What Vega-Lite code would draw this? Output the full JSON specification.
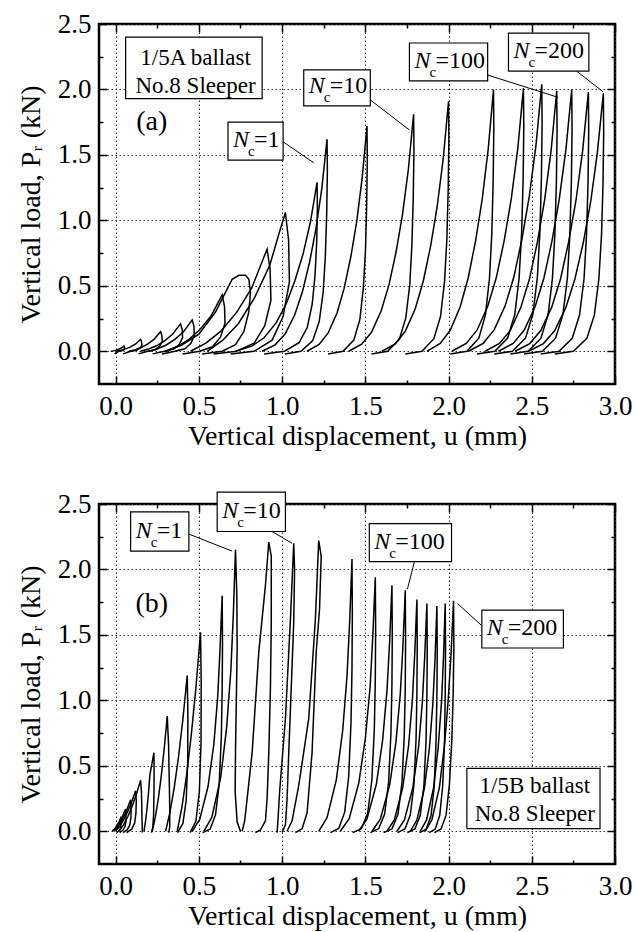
{
  "$schema": "https://vega.github.io/schema/vega-lite/v6.json",
  "padding": {"top": 8, "left": 16, "right": 10, "bottom": 0},
  "spacing": 36,
  "config": {
    "view": {"stroke": "black", "strokeWidth": 2.5},
    "font": "Liberation Serif, Times New Roman, DejaVu Serif, serif",
    "axis": {"labelFont": "Liberation Serif, Times New Roman, DejaVu Serif, serif", "titleFont": "Liberation Serif, Times New Roman, DejaVu Serif, serif", "labelFontSize": 27, "titleFontSize": 28, "titleFontWeight": "normal", "labelColor": "black", "titleColor": "black", "tickColor": "black", "tickWidth": 1.5, "domain": false},
    "text": {"font": "Liberation Serif, Times New Roman, DejaVu Serif, serif"}
  },
  "datasets": {
    "loopsA": [
      {"l":"A1","i":0,"u":-0.03,"P":0},{"l":"A1","i":1,"u":-0.014,"P":0.003},{"l":"A1","i":2,"u":0.002,"P":0.008},{"l":"A1","i":3,"u":0.018,"P":0.015},{"l":"A1","i":4,"u":0.034,"P":0.025},{"l":"A1","i":5,"u":0.044,"P":0.034},{"l":"A1","i":6,"u":0.05,"P":0.04},{"l":"A1","i":7,"u":0.053,"P":0.032},{"l":"A1","i":8,"u":0.054,"P":0.02},{"l":"A1","i":9,"u":0.048,"P":0.01},{"l":"A1","i":10,"u":0.036,"P":0.003},{"l":"A1","i":11,"u":0.018,"P":0},{"l":"A1","i":12,"u":-0.006,"P":-0.02},
      {"l":"A2","i":0,"u":0,"P":0},{"l":"A2","i":1,"u":0.03,"P":0.007},{"l":"A2","i":2,"u":0.06,"P":0.018},{"l":"A2","i":3,"u":0.09,"P":0.034},{"l":"A2","i":4,"u":0.12,"P":0.056},{"l":"A2","i":5,"u":0.138,"P":0.077},{"l":"A2","i":6,"u":0.15,"P":0.09},{"l":"A2","i":7,"u":0.156,"P":0.072},{"l":"A2","i":8,"u":0.158,"P":0.045},{"l":"A2","i":9,"u":0.146,"P":0.023},{"l":"A2","i":10,"u":0.125,"P":0.007},{"l":"A2","i":11,"u":0.09,"P":0},{"l":"A2","i":12,"u":0.045,"P":-0.02},
      {"l":"A3","i":0,"u":0.08,"P":0},{"l":"A3","i":1,"u":0.118,"P":0.012},{"l":"A3","i":2,"u":0.156,"P":0.03},{"l":"A3","i":3,"u":0.194,"P":0.057},{"l":"A3","i":4,"u":0.232,"P":0.093},{"l":"A3","i":5,"u":0.255,"P":0.128},{"l":"A3","i":6,"u":0.27,"P":0.15},{"l":"A3","i":7,"u":0.278,"P":0.12},{"l":"A3","i":8,"u":0.28,"P":0.075},{"l":"A3","i":9,"u":0.264,"P":0.038},{"l":"A3","i":10,"u":0.238,"P":0.012},{"l":"A3","i":11,"u":0.194,"P":0},{"l":"A3","i":12,"u":0.137,"P":-0.02},
      {"l":"A4","i":0,"u":0.15,"P":0},{"l":"A4","i":1,"u":0.198,"P":0.017},{"l":"A4","i":2,"u":0.246,"P":0.042},{"l":"A4","i":3,"u":0.294,"P":0.08},{"l":"A4","i":4,"u":0.342,"P":0.13},{"l":"A4","i":5,"u":0.371,"P":0.179},{"l":"A4","i":6,"u":0.39,"P":0.21},{"l":"A4","i":7,"u":0.4,"P":0.168},{"l":"A4","i":8,"u":0.402,"P":0.105},{"l":"A4","i":9,"u":0.383,"P":0.053},{"l":"A4","i":10,"u":0.349,"P":0.017},{"l":"A4","i":11,"u":0.294,"P":0},{"l":"A4","i":12,"u":0.222,"P":-0.02},
      {"l":"A5","i":0,"u":0.2,"P":0},{"l":"A5","i":1,"u":0.252,"P":0.019},{"l":"A5","i":2,"u":0.304,"P":0.048},{"l":"A5","i":3,"u":0.356,"P":0.091},{"l":"A5","i":4,"u":0.408,"P":0.149},{"l":"A5","i":5,"u":0.439,"P":0.204},{"l":"A5","i":6,"u":0.46,"P":0.24},{"l":"A5","i":7,"u":0.47,"P":0.192},{"l":"A5","i":8,"u":0.473,"P":0.12},{"l":"A5","i":9,"u":0.452,"P":0.06},{"l":"A5","i":10,"u":0.416,"P":0.019},{"l":"A5","i":11,"u":0.356,"P":0},{"l":"A5","i":12,"u":0.278,"P":-0.02},
      {"l":"A6","i":0,"u":0.3,"P":0},{"l":"A6","i":1,"u":0.368,"P":0.034},{"l":"A6","i":2,"u":0.436,"P":0.086},{"l":"A6","i":3,"u":0.504,"P":0.163},{"l":"A6","i":4,"u":0.572,"P":0.267},{"l":"A6","i":5,"u":0.613,"P":0.366},{"l":"A6","i":6,"u":0.64,"P":0.43},{"l":"A6","i":7,"u":0.654,"P":0.344},{"l":"A6","i":8,"u":0.657,"P":0.215},{"l":"A6","i":9,"u":0.63,"P":0.108},{"l":"A6","i":10,"u":0.582,"P":0.034},{"l":"A6","i":11,"u":0.504,"P":0},{"l":"A6","i":12,"u":0.402,"P":-0.02},
      {"l":"A7","i":0,"u":0.3,"P":0},{"l":"A7","i":1,"u":0.4,"P":0.05},{"l":"A7","i":2,"u":0.5,"P":0.13},{"l":"A7","i":3,"u":0.6,"P":0.3},{"l":"A7","i":4,"u":0.66,"P":0.45},{"l":"A7","i":5,"u":0.7,"P":0.55},{"l":"A7","i":6,"u":0.74,"P":0.58},{"l":"A7","i":7,"u":0.78,"P":0.58},{"l":"A7","i":8,"u":0.8,"P":0.55},{"l":"A7","i":9,"u":0.81,"P":0.45},{"l":"A7","i":10,"u":0.8,"P":0.3},{"l":"A7","i":11,"u":0.77,"P":0.15},{"l":"A7","i":12,"u":0.72,"P":0.05},{"l":"A7","i":13,"u":0.64,"P":0},{"l":"A7","i":14,"u":0.52,"P":-0.02},
      {"l":"A8","i":0,"u":0.45,"P":0},{"l":"A8","i":1,"u":0.542,"P":0.062},{"l":"A8","i":2,"u":0.634,"P":0.156},{"l":"A8","i":3,"u":0.726,"P":0.296},{"l":"A8","i":4,"u":0.818,"P":0.484},{"l":"A8","i":5,"u":0.873,"P":0.663},{"l":"A8","i":6,"u":0.91,"P":0.78},{"l":"A8","i":7,"u":0.928,"P":0.624},{"l":"A8","i":8,"u":0.933,"P":0.39},{"l":"A8","i":9,"u":0.896,"P":0.195},{"l":"A8","i":10,"u":0.832,"P":0.062},{"l":"A8","i":11,"u":0.726,"P":0},{"l":"A8","i":12,"u":0.588,"P":-0.02},
      {"l":"A9","i":0,"u":0.55,"P":0},{"l":"A9","i":1,"u":0.644,"P":0.085},{"l":"A9","i":2,"u":0.738,"P":0.212},{"l":"A9","i":3,"u":0.832,"P":0.403},{"l":"A9","i":4,"u":0.926,"P":0.657},{"l":"A9","i":5,"u":0.982,"P":0.901},{"l":"A9","i":6,"u":1.02,"P":1.06},{"l":"A9","i":7,"u":1.039,"P":0.848},{"l":"A9","i":8,"u":1.044,"P":0.53},{"l":"A9","i":9,"u":1.006,"P":0.265},{"l":"A9","i":10,"u":0.94,"P":0.085},{"l":"A9","i":11,"u":0.832,"P":0},{"l":"A9","i":12,"u":0.691,"P":-0.02},
      {"l":"A10","i":0,"u":0.72,"P":0},{"l":"A10","i":1,"u":0.818,"P":0.039},{"l":"A10","i":2,"u":0.892,"P":0.103},{"l":"A10","i":3,"u":0.965,"P":0.219},{"l":"A10","i":4,"u":1.024,"P":0.361},{"l":"A10","i":5,"u":1.078,"P":0.542},{"l":"A10","i":6,"u":1.127,"P":0.748},{"l":"A10","i":7,"u":1.171,"P":0.993},{"l":"A10","i":8,"u":1.21,"P":1.29},{"l":"A10","i":9,"u":1.212,"P":1.097},{"l":"A10","i":10,"u":1.208,"P":0.839},{"l":"A10","i":11,"u":1.198,"P":0.581},{"l":"A10","i":12,"u":1.181,"P":0.361},{"l":"A10","i":13,"u":1.151,"P":0.181},{"l":"A10","i":14,"u":1.102,"P":0.065},{"l":"A10","i":15,"u":1.014,"P":0},{"l":"A10","i":16,"u":0.892,"P":-0.02},
      {"l":"A11","i":0,"u":0.88,"P":0},{"l":"A11","i":1,"u":0.958,"P":0.049},{"l":"A11","i":2,"u":1.017,"P":0.13},{"l":"A11","i":3,"u":1.075,"P":0.275},{"l":"A11","i":4,"u":1.122,"P":0.454},{"l":"A11","i":5,"u":1.165,"P":0.68},{"l":"A11","i":6,"u":1.204,"P":0.94},{"l":"A11","i":7,"u":1.239,"P":1.247},{"l":"A11","i":8,"u":1.27,"P":1.62},{"l":"A11","i":9,"u":1.272,"P":1.377},{"l":"A11","i":10,"u":1.268,"P":1.053},{"l":"A11","i":11,"u":1.26,"P":0.729},{"l":"A11","i":12,"u":1.247,"P":0.454},{"l":"A11","i":13,"u":1.223,"P":0.227},{"l":"A11","i":14,"u":1.184,"P":0.081},{"l":"A11","i":15,"u":1.114,"P":0},{"l":"A11","i":16,"u":1.017,"P":-0.02},
      {"l":"A12","i":0,"u":1.15,"P":0},{"l":"A12","i":1,"u":1.222,"P":0.052},{"l":"A12","i":2,"u":1.276,"P":0.138},{"l":"A12","i":3,"u":1.33,"P":0.292},{"l":"A12","i":4,"u":1.373,"P":0.482},{"l":"A12","i":5,"u":1.413,"P":0.722},{"l":"A12","i":6,"u":1.449,"P":0.998},{"l":"A12","i":7,"u":1.481,"P":1.324},{"l":"A12","i":8,"u":1.51,"P":1.72},{"l":"A12","i":9,"u":1.512,"P":1.462},{"l":"A12","i":10,"u":1.508,"P":1.118},{"l":"A12","i":11,"u":1.501,"P":0.774},{"l":"A12","i":12,"u":1.488,"P":0.482},{"l":"A12","i":13,"u":1.467,"P":0.241},{"l":"A12","i":14,"u":1.431,"P":0.086},{"l":"A12","i":15,"u":1.366,"P":0},{"l":"A12","i":16,"u":1.276,"P":-0.02},
      {"l":"A13","i":0,"u":1.4,"P":0},{"l":"A13","i":1,"u":1.478,"P":0.054},{"l":"A13","i":2,"u":1.537,"P":0.145},{"l":"A13","i":3,"u":1.595,"P":0.308},{"l":"A13","i":4,"u":1.642,"P":0.507},{"l":"A13","i":5,"u":1.685,"P":0.76},{"l":"A13","i":6,"u":1.724,"P":1.05},{"l":"A13","i":7,"u":1.759,"P":1.394},{"l":"A13","i":8,"u":1.79,"P":1.81},{"l":"A13","i":9,"u":1.792,"P":1.539},{"l":"A13","i":10,"u":1.788,"P":1.177},{"l":"A13","i":11,"u":1.78,"P":0.815},{"l":"A13","i":12,"u":1.767,"P":0.507},{"l":"A13","i":13,"u":1.743,"P":0.253},{"l":"A13","i":14,"u":1.704,"P":0.091},{"l":"A13","i":15,"u":1.634,"P":0},{"l":"A13","i":16,"u":1.537,"P":-0.02},
      {"l":"A14","i":0,"u":1.6,"P":0},{"l":"A14","i":1,"u":1.68,"P":0.057},{"l":"A14","i":2,"u":1.74,"P":0.153},{"l":"A14","i":3,"u":1.8,"P":0.325},{"l":"A14","i":4,"u":1.848,"P":0.535},{"l":"A14","i":5,"u":1.892,"P":0.802},{"l":"A14","i":6,"u":1.932,"P":1.108},{"l":"A14","i":7,"u":1.968,"P":1.471},{"l":"A14","i":8,"u":2.0,"P":1.91},{"l":"A14","i":9,"u":2.002,"P":1.624},{"l":"A14","i":10,"u":1.998,"P":1.242},{"l":"A14","i":11,"u":1.99,"P":0.86},{"l":"A14","i":12,"u":1.976,"P":0.535},{"l":"A14","i":13,"u":1.952,"P":0.267},{"l":"A14","i":14,"u":1.912,"P":0.096},{"l":"A14","i":15,"u":1.84,"P":0},{"l":"A14","i":16,"u":1.74,"P":-0.02},
      {"l":"A15","i":0,"u":1.87,"P":0},{"l":"A15","i":1,"u":1.95,"P":0.06},{"l":"A15","i":2,"u":2.01,"P":0.16},{"l":"A15","i":3,"u":2.07,"P":0.34},{"l":"A15","i":4,"u":2.118,"P":0.56},{"l":"A15","i":5,"u":2.162,"P":0.84},{"l":"A15","i":6,"u":2.202,"P":1.16},{"l":"A15","i":7,"u":2.238,"P":1.54},{"l":"A15","i":8,"u":2.27,"P":2.0},{"l":"A15","i":9,"u":2.272,"P":1.7},{"l":"A15","i":10,"u":2.268,"P":1.3},{"l":"A15","i":11,"u":2.26,"P":0.9},{"l":"A15","i":12,"u":2.246,"P":0.56},{"l":"A15","i":13,"u":2.222,"P":0.28},{"l":"A15","i":14,"u":2.182,"P":0.1},{"l":"A15","i":15,"u":2.11,"P":0},{"l":"A15","i":16,"u":2.01,"P":-0.02},
      {"l":"A16","i":0,"u":2.02,"P":0},{"l":"A16","i":1,"u":2.106,"P":0.06},{"l":"A16","i":2,"u":2.171,"P":0.161},{"l":"A16","i":3,"u":2.235,"P":0.342},{"l":"A16","i":4,"u":2.287,"P":0.563},{"l":"A16","i":5,"u":2.334,"P":0.844},{"l":"A16","i":6,"u":2.377,"P":1.166},{"l":"A16","i":7,"u":2.416,"P":1.548},{"l":"A16","i":8,"u":2.45,"P":2.01},{"l":"A16","i":9,"u":2.452,"P":1.709},{"l":"A16","i":10,"u":2.448,"P":1.307},{"l":"A16","i":11,"u":2.439,"P":0.905},{"l":"A16","i":12,"u":2.424,"P":0.563},{"l":"A16","i":13,"u":2.398,"P":0.281},{"l":"A16","i":14,"u":2.355,"P":0.101},{"l":"A16","i":15,"u":2.278,"P":0},{"l":"A16","i":16,"u":2.171,"P":-0.02},
      {"l":"A17","i":0,"u":2.12,"P":0},{"l":"A17","i":1,"u":2.208,"P":0.061},{"l":"A17","i":2,"u":2.274,"P":0.163},{"l":"A17","i":3,"u":2.34,"P":0.347},{"l":"A17","i":4,"u":2.393,"P":0.571},{"l":"A17","i":5,"u":2.441,"P":0.857},{"l":"A17","i":6,"u":2.485,"P":1.183},{"l":"A17","i":7,"u":2.525,"P":1.571},{"l":"A17","i":8,"u":2.56,"P":2.04},{"l":"A17","i":9,"u":2.562,"P":1.734},{"l":"A17","i":10,"u":2.558,"P":1.326},{"l":"A17","i":11,"u":2.549,"P":0.918},{"l":"A17","i":12,"u":2.534,"P":0.571},{"l":"A17","i":13,"u":2.507,"P":0.286},{"l":"A17","i":14,"u":2.463,"P":0.102},{"l":"A17","i":15,"u":2.384,"P":0},{"l":"A17","i":16,"u":2.274,"P":-0.02},
      {"l":"A18","i":0,"u":2.22,"P":0},{"l":"A18","i":1,"u":2.306,"P":0.06},{"l":"A18","i":2,"u":2.371,"P":0.159},{"l":"A18","i":3,"u":2.435,"P":0.338},{"l":"A18","i":4,"u":2.487,"P":0.557},{"l":"A18","i":5,"u":2.534,"P":0.836},{"l":"A18","i":6,"u":2.577,"P":1.154},{"l":"A18","i":7,"u":2.616,"P":1.532},{"l":"A18","i":8,"u":2.65,"P":1.99},{"l":"A18","i":9,"u":2.652,"P":1.692},{"l":"A18","i":10,"u":2.648,"P":1.294},{"l":"A18","i":11,"u":2.639,"P":0.896},{"l":"A18","i":12,"u":2.624,"P":0.557},{"l":"A18","i":13,"u":2.598,"P":0.279},{"l":"A18","i":14,"u":2.555,"P":0.1},{"l":"A18","i":15,"u":2.478,"P":0},{"l":"A18","i":16,"u":2.371,"P":-0.02},
      {"l":"A19","i":0,"u":2.3,"P":0},{"l":"A19","i":1,"u":2.388,"P":0.06},{"l":"A19","i":2,"u":2.454,"P":0.16},{"l":"A19","i":3,"u":2.52,"P":0.34},{"l":"A19","i":4,"u":2.573,"P":0.56},{"l":"A19","i":5,"u":2.621,"P":0.84},{"l":"A19","i":6,"u":2.665,"P":1.16},{"l":"A19","i":7,"u":2.705,"P":1.54},{"l":"A19","i":8,"u":2.74,"P":2.0},{"l":"A19","i":9,"u":2.742,"P":1.7},{"l":"A19","i":10,"u":2.738,"P":1.3},{"l":"A19","i":11,"u":2.729,"P":0.9},{"l":"A19","i":12,"u":2.714,"P":0.56},{"l":"A19","i":13,"u":2.687,"P":0.28},{"l":"A19","i":14,"u":2.643,"P":0.1},{"l":"A19","i":15,"u":2.564,"P":0},{"l":"A19","i":16,"u":2.454,"P":-0.02},
      {"l":"A20","i":0,"u":2.4,"P":0},{"l":"A20","i":1,"u":2.488,"P":0.059},{"l":"A20","i":2,"u":2.554,"P":0.158},{"l":"A20","i":3,"u":2.62,"P":0.337},{"l":"A20","i":4,"u":2.673,"P":0.554},{"l":"A20","i":5,"u":2.721,"P":0.832},{"l":"A20","i":6,"u":2.765,"P":1.148},{"l":"A20","i":7,"u":2.805,"P":1.525},{"l":"A20","i":8,"u":2.84,"P":1.98},{"l":"A20","i":9,"u":2.842,"P":1.683},{"l":"A20","i":10,"u":2.838,"P":1.287},{"l":"A20","i":11,"u":2.829,"P":0.891},{"l":"A20","i":12,"u":2.814,"P":0.554},{"l":"A20","i":13,"u":2.787,"P":0.277},{"l":"A20","i":14,"u":2.743,"P":0.099},{"l":"A20","i":15,"u":2.664,"P":0},{"l":"A20","i":16,"u":2.554,"P":-0.02},
      {"l":"A21","i":0,"u":2.48,"P":0},{"l":"A21","i":1,"u":2.57,"P":0.059},{"l":"A21","i":2,"u":2.638,"P":0.158},{"l":"A21","i":3,"u":2.705,"P":0.335},{"l":"A21","i":4,"u":2.759,"P":0.552},{"l":"A21","i":5,"u":2.809,"P":0.827},{"l":"A21","i":6,"u":2.854,"P":1.143},{"l":"A21","i":7,"u":2.894,"P":1.517},{"l":"A21","i":8,"u":2.93,"P":1.97},{"l":"A21","i":9,"u":2.932,"P":1.675},{"l":"A21","i":10,"u":2.928,"P":1.281},{"l":"A21","i":11,"u":2.919,"P":0.887},{"l":"A21","i":12,"u":2.903,"P":0.552},{"l":"A21","i":13,"u":2.876,"P":0.276},{"l":"A21","i":14,"u":2.831,"P":0.099},{"l":"A21","i":15,"u":2.75,"P":0},{"l":"A21","i":16,"u":2.638,"P":-0.02}
    ],
    "loopsB": [
      {"l":"B1","i":0,"u":-0.02,"P":0},{"l":"B1","i":1,"u":-0.01,"P":0.012},{"l":"B1","i":2,"u":0.0,"P":0.028},{"l":"B1","i":3,"u":0.01,"P":0.048},{"l":"B1","i":4,"u":0.02,"P":0.072},{"l":"B1","i":5,"u":0.03,"P":0.1},{"l":"B1","i":6,"u":0.032,"P":0.075},{"l":"B1","i":7,"u":0.031,"P":0.045},{"l":"B1","i":8,"u":0.028,"P":0.02},{"l":"B1","i":9,"u":0.02,"P":0.005},{"l":"B1","i":10,"u":0.008,"P":-0.01},
      {"l":"B2","i":0,"u":-0.02,"P":0},{"l":"B2","i":1,"u":-0.004,"P":0.02},{"l":"B2","i":2,"u":0.012,"P":0.048},{"l":"B2","i":3,"u":0.028,"P":0.082},{"l":"B2","i":4,"u":0.044,"P":0.122},{"l":"B2","i":5,"u":0.06,"P":0.17},{"l":"B2","i":6,"u":0.062,"P":0.128},{"l":"B2","i":7,"u":0.062,"P":0.077},{"l":"B2","i":8,"u":0.056,"P":0.034},{"l":"B2","i":9,"u":0.044,"P":0.009},{"l":"B2","i":10,"u":0.024,"P":-0.01},
      {"l":"B3","i":0,"u":-0.01,"P":0},{"l":"B3","i":1,"u":0.01,"P":0.029},{"l":"B3","i":2,"u":0.03,"P":0.067},{"l":"B3","i":3,"u":0.05,"P":0.115},{"l":"B3","i":4,"u":0.07,"P":0.173},{"l":"B3","i":5,"u":0.09,"P":0.24},{"l":"B3","i":6,"u":0.093,"P":0.18},{"l":"B3","i":7,"u":0.092,"P":0.108},{"l":"B3","i":8,"u":0.085,"P":0.048},{"l":"B3","i":9,"u":0.07,"P":0.012},{"l":"B3","i":10,"u":0.045,"P":-0.01},
      {"l":"B4","i":0,"u":0.0,"P":0},{"l":"B4","i":1,"u":0.024,"P":0.037},{"l":"B4","i":2,"u":0.048,"P":0.087},{"l":"B4","i":3,"u":0.072,"P":0.149},{"l":"B4","i":4,"u":0.096,"P":0.223},{"l":"B4","i":5,"u":0.12,"P":0.31},{"l":"B4","i":6,"u":0.124,"P":0.233},{"l":"B4","i":7,"u":0.122,"P":0.14},{"l":"B4","i":8,"u":0.114,"P":0.062},{"l":"B4","i":9,"u":0.096,"P":0.016},{"l":"B4","i":10,"u":0.066,"P":-0.01},
      {"l":"B5","i":0,"u":0.02,"P":0},{"l":"B5","i":1,"u":0.046,"P":0.047},{"l":"B5","i":2,"u":0.072,"P":0.109},{"l":"B5","i":3,"u":0.098,"P":0.187},{"l":"B5","i":4,"u":0.124,"P":0.281},{"l":"B5","i":5,"u":0.15,"P":0.39},{"l":"B5","i":6,"u":0.155,"P":0.3},{"l":"B5","i":7,"u":0.157,"P":0.2},{"l":"B5","i":8,"u":0.158,"P":0.1},{"l":"B5","i":9,"u":0.16,"P":0.03},{"l":"B5","i":10,"u":0.16,"P":-0.01},
      {"l":"B6","i":0,"u":0.17,"P":0},{"l":"B6","i":1,"u":0.179,"P":0.072},{"l":"B6","i":2,"u":0.188,"P":0.168},{"l":"B6","i":3,"u":0.197,"P":0.288},{"l":"B6","i":4,"u":0.206,"P":0.432},{"l":"B6","i":5,"u":0.23,"P":0.6},{"l":"B6","i":6,"u":0.231,"P":0.45},{"l":"B6","i":7,"u":0.23,"P":0.27},{"l":"B6","i":8,"u":0.228,"P":0.12},{"l":"B6","i":9,"u":0.223,"P":0.03},{"l":"B6","i":10,"u":0.215,"P":-0.01},
      {"l":"B7","i":0,"u":0.22,"P":0},{"l":"B7","i":1,"u":0.238,"P":0.106},{"l":"B7","i":2,"u":0.256,"P":0.246},{"l":"B7","i":3,"u":0.274,"P":0.422},{"l":"B7","i":4,"u":0.292,"P":0.634},{"l":"B7","i":5,"u":0.31,"P":0.88},{"l":"B7","i":6,"u":0.318,"P":0.66},{"l":"B7","i":7,"u":0.322,"P":0.4},{"l":"B7","i":8,"u":0.325,"P":0.18},{"l":"B7","i":9,"u":0.325,"P":0.04},{"l":"B7","i":10,"u":0.32,"P":-0.01},
      {"l":"B8","i":0,"u":0.3,"P":0},{"l":"B8","i":1,"u":0.326,"P":0.143},{"l":"B8","i":2,"u":0.352,"P":0.333},{"l":"B8","i":3,"u":0.378,"P":0.571},{"l":"B8","i":4,"u":0.404,"P":0.857},{"l":"B8","i":5,"u":0.43,"P":1.19},{"l":"B8","i":6,"u":0.434,"P":0.893},{"l":"B8","i":7,"u":0.433,"P":0.536},{"l":"B8","i":8,"u":0.424,"P":0.238},{"l":"B8","i":9,"u":0.404,"P":0.06},{"l":"B8","i":10,"u":0.372,"P":-0.01},
      {"l":"B9","i":0,"u":0.37,"P":0},{"l":"B9","i":1,"u":0.398,"P":0.182},{"l":"B9","i":2,"u":0.426,"P":0.426},{"l":"B9","i":3,"u":0.454,"P":0.73},{"l":"B9","i":4,"u":0.482,"P":1.094},{"l":"B9","i":5,"u":0.51,"P":1.52},{"l":"B9","i":6,"u":0.514,"P":1.14},{"l":"B9","i":7,"u":0.513,"P":0.684},{"l":"B9","i":8,"u":0.503,"P":0.304},{"l":"B9","i":9,"u":0.482,"P":0.076},{"l":"B9","i":10,"u":0.447,"P":-0.01},
      {"l":"B10","i":0,"u":0.46,"P":0},{"l":"B10","i":1,"u":0.505,"P":0.09},{"l":"B10","i":2,"u":0.555,"P":0.342},{"l":"B10","i":3,"u":0.59,"P":0.666},{"l":"B10","i":4,"u":0.613,"P":1.026},{"l":"B10","i":5,"u":0.627,"P":1.386},{"l":"B10","i":6,"u":0.64,"P":1.8},{"l":"B10","i":7,"u":0.642,"P":1.44},{"l":"B10","i":8,"u":0.64,"P":1.08},{"l":"B10","i":9,"u":0.635,"P":0.72},{"l":"B10","i":10,"u":0.622,"P":0.36},{"l":"B10","i":11,"u":0.6,"P":0.126},{"l":"B10","i":12,"u":0.568,"P":0.018},{"l":"B10","i":13,"u":0.523,"P":-0.01},
      {"l":"B11","i":0,"u":0.53,"P":0},{"l":"B11","i":1,"u":0.578,"P":0.108},{"l":"B11","i":2,"u":0.631,"P":0.409},{"l":"B11","i":3,"u":0.667,"P":0.796},{"l":"B11","i":4,"u":0.692,"P":1.226},{"l":"B11","i":5,"u":0.707,"P":1.656},{"l":"B11","i":6,"u":0.72,"P":2.15},{"l":"B11","i":7,"u":0.728,"P":1.8},{"l":"B11","i":8,"u":0.73,"P":1.4},{"l":"B11","i":9,"u":0.725,"P":1.0},{"l":"B11","i":10,"u":0.72,"P":0.6},{"l":"B11","i":11,"u":0.718,"P":0.3},{"l":"B11","i":12,"u":0.73,"P":0.07},{"l":"B11","i":13,"u":0.75,"P":0.0},
      {"l":"B12","i":0,"u":0.76,"P":0},{"l":"B12","i":1,"u":0.775,"P":0.08},{"l":"B12","i":2,"u":0.79,"P":0.25},{"l":"B12","i":3,"u":0.82,"P":0.6},{"l":"B12","i":4,"u":0.86,"P":1.37},{"l":"B12","i":5,"u":0.9,"P":1.88},{"l":"B12","i":6,"u":0.92,"P":2.21},{"l":"B12","i":7,"u":0.935,"P":2.1},{"l":"B12","i":8,"u":0.935,"P":1.6},{"l":"B12","i":9,"u":0.93,"P":1.1},{"l":"B12","i":10,"u":0.92,"P":0.6},{"l":"B12","i":11,"u":0.91,"P":0.25},{"l":"B12","i":12,"u":0.9,"P":0.08},{"l":"B12","i":13,"u":0.87,"P":0.01},{"l":"B12","i":14,"u":0.84,"P":-0.01},
      {"l":"B13","i":0,"u":0.97,"P":-0.01},{"l":"B13","i":1,"u":0.975,"P":0.08},{"l":"B13","i":2,"u":0.985,"P":0.3},{"l":"B13","i":3,"u":1.02,"P":0.86},{"l":"B13","i":4,"u":1.05,"P":1.62},{"l":"B13","i":5,"u":1.07,"P":2.2},{"l":"B13","i":6,"u":1.075,"P":2.0},{"l":"B13","i":7,"u":1.07,"P":1.6},{"l":"B13","i":8,"u":1.055,"P":1.1},{"l":"B13","i":9,"u":1.04,"P":0.6},{"l":"B13","i":10,"u":1.03,"P":0.25},{"l":"B13","i":11,"u":1.02,"P":0.05},{"l":"B13","i":12,"u":1.0,"P":-0.01},
      {"l":"B14","i":0,"u":1.03,"P":0},{"l":"B14","i":1,"u":1.06,"P":0.08},{"l":"B14","i":2,"u":1.1,"P":0.35},{"l":"B14","i":3,"u":1.16,"P":0.86},{"l":"B14","i":4,"u":1.2,"P":1.62},{"l":"B14","i":5,"u":1.22,"P":2.22},{"l":"B14","i":6,"u":1.235,"P":2.1},{"l":"B14","i":7,"u":1.225,"P":1.7},{"l":"B14","i":8,"u":1.205,"P":1.37},{"l":"B14","i":9,"u":1.18,"P":0.6},{"l":"B14","i":10,"u":1.15,"P":0.14},{"l":"B14","i":11,"u":1.12,"P":0.02},{"l":"B14","i":12,"u":1.08,"P":-0.01},
      {"l":"B15","i":0,"u":1.22,"P":0},{"l":"B15","i":1,"u":1.27,"P":0.104},{"l":"B15","i":2,"u":1.326,"P":0.395},{"l":"B15","i":3,"u":1.364,"P":0.77},{"l":"B15","i":4,"u":1.39,"P":1.186},{"l":"B15","i":5,"u":1.406,"P":1.602},{"l":"B15","i":6,"u":1.42,"P":2.08},{"l":"B15","i":7,"u":1.422,"P":1.664},{"l":"B15","i":8,"u":1.42,"P":1.248},{"l":"B15","i":9,"u":1.414,"P":0.832},{"l":"B15","i":10,"u":1.4,"P":0.416},{"l":"B15","i":11,"u":1.376,"P":0.146},{"l":"B15","i":12,"u":1.34,"P":0.021},{"l":"B15","i":13,"u":1.29,"P":-0.01},
      {"l":"B16","i":0,"u":1.35,"P":0},{"l":"B16","i":1,"u":1.403,"P":0.097},{"l":"B16","i":2,"u":1.461,"P":0.369},{"l":"B16","i":3,"u":1.501,"P":0.718},{"l":"B16","i":4,"u":1.529,"P":1.106},{"l":"B16","i":5,"u":1.545,"P":1.494},{"l":"B16","i":6,"u":1.56,"P":1.94},{"l":"B16","i":7,"u":1.562,"P":1.552},{"l":"B16","i":8,"u":1.56,"P":1.164},{"l":"B16","i":9,"u":1.554,"P":0.776},{"l":"B16","i":10,"u":1.539,"P":0.388},{"l":"B16","i":11,"u":1.514,"P":0.136},{"l":"B16","i":12,"u":1.476,"P":0.019},{"l":"B16","i":13,"u":1.424,"P":-0.01},
      {"l":"B17","i":0,"u":1.46,"P":0},{"l":"B17","i":1,"u":1.51,"P":0.094},{"l":"B17","i":2,"u":1.566,"P":0.357},{"l":"B17","i":3,"u":1.604,"P":0.696},{"l":"B17","i":4,"u":1.63,"P":1.072},{"l":"B17","i":5,"u":1.646,"P":1.448},{"l":"B17","i":6,"u":1.66,"P":1.88},{"l":"B17","i":7,"u":1.662,"P":1.504},{"l":"B17","i":8,"u":1.66,"P":1.128},{"l":"B17","i":9,"u":1.654,"P":0.752},{"l":"B17","i":10,"u":1.64,"P":0.376},{"l":"B17","i":11,"u":1.616,"P":0.132},{"l":"B17","i":12,"u":1.58,"P":0.019},{"l":"B17","i":13,"u":1.53,"P":-0.01},
      {"l":"B18","i":0,"u":1.54,"P":0},{"l":"B18","i":1,"u":1.59,"P":0.092},{"l":"B18","i":2,"u":1.646,"P":0.35},{"l":"B18","i":3,"u":1.684,"P":0.681},{"l":"B18","i":4,"u":1.71,"P":1.049},{"l":"B18","i":5,"u":1.726,"P":1.417},{"l":"B18","i":6,"u":1.74,"P":1.84},{"l":"B18","i":7,"u":1.742,"P":1.472},{"l":"B18","i":8,"u":1.74,"P":1.104},{"l":"B18","i":9,"u":1.734,"P":0.736},{"l":"B18","i":10,"u":1.72,"P":0.368},{"l":"B18","i":11,"u":1.696,"P":0.129},{"l":"B18","i":12,"u":1.66,"P":0.018},{"l":"B18","i":13,"u":1.61,"P":-0.01},
      {"l":"B19","i":0,"u":1.63,"P":0},{"l":"B19","i":1,"u":1.675,"P":0.089},{"l":"B19","i":2,"u":1.725,"P":0.336},{"l":"B19","i":3,"u":1.76,"P":0.655},{"l":"B19","i":4,"u":1.783,"P":1.009},{"l":"B19","i":5,"u":1.797,"P":1.363},{"l":"B19","i":6,"u":1.81,"P":1.77},{"l":"B19","i":7,"u":1.812,"P":1.416},{"l":"B19","i":8,"u":1.81,"P":1.062},{"l":"B19","i":9,"u":1.805,"P":0.708},{"l":"B19","i":10,"u":1.792,"P":0.354},{"l":"B19","i":11,"u":1.77,"P":0.124},{"l":"B19","i":12,"u":1.738,"P":0.018},{"l":"B19","i":13,"u":1.693,"P":-0.01},
      {"l":"B20","i":0,"u":1.69,"P":0},{"l":"B20","i":1,"u":1.735,"P":0.087},{"l":"B20","i":2,"u":1.785,"P":0.331},{"l":"B20","i":3,"u":1.82,"P":0.644},{"l":"B20","i":4,"u":1.843,"P":0.992},{"l":"B20","i":5,"u":1.857,"P":1.34},{"l":"B20","i":6,"u":1.87,"P":1.74},{"l":"B20","i":7,"u":1.872,"P":1.392},{"l":"B20","i":8,"u":1.87,"P":1.044},{"l":"B20","i":9,"u":1.865,"P":0.696},{"l":"B20","i":10,"u":1.852,"P":0.348},{"l":"B20","i":11,"u":1.83,"P":0.122},{"l":"B20","i":12,"u":1.798,"P":0.017},{"l":"B20","i":13,"u":1.753,"P":-0.01},
      {"l":"B21","i":0,"u":1.77,"P":0},{"l":"B21","i":1,"u":1.81,"P":0.086},{"l":"B21","i":2,"u":1.855,"P":0.327},{"l":"B21","i":3,"u":1.885,"P":0.636},{"l":"B21","i":4,"u":1.906,"P":0.98},{"l":"B21","i":5,"u":1.919,"P":1.324},{"l":"B21","i":6,"u":1.93,"P":1.72},{"l":"B21","i":7,"u":1.932,"P":1.376},{"l":"B21","i":8,"u":1.93,"P":1.032},{"l":"B21","i":9,"u":1.925,"P":0.688},{"l":"B21","i":10,"u":1.914,"P":0.344},{"l":"B21","i":11,"u":1.895,"P":0.12},{"l":"B21","i":12,"u":1.866,"P":0.017},{"l":"B21","i":13,"u":1.826,"P":-0.01},
      {"l":"B22","i":0,"u":1.83,"P":0},{"l":"B22","i":1,"u":1.868,"P":0.087},{"l":"B22","i":2,"u":1.91,"P":0.331},{"l":"B22","i":3,"u":1.938,"P":0.644},{"l":"B22","i":4,"u":1.958,"P":0.992},{"l":"B22","i":5,"u":1.97,"P":1.34},{"l":"B22","i":6,"u":1.98,"P":1.74},{"l":"B22","i":7,"u":1.982,"P":1.392},{"l":"B22","i":8,"u":1.98,"P":1.044},{"l":"B22","i":9,"u":1.976,"P":0.696},{"l":"B22","i":10,"u":1.965,"P":0.348},{"l":"B22","i":11,"u":1.947,"P":0.122},{"l":"B22","i":12,"u":1.92,"P":0.017},{"l":"B22","i":13,"u":1.883,"P":-0.01},
      {"l":"B23","i":0,"u":1.86,"P":0},{"l":"B23","i":1,"u":1.9,"P":0.088},{"l":"B23","i":2,"u":1.945,"P":0.334},{"l":"B23","i":3,"u":1.975,"P":0.651},{"l":"B23","i":4,"u":1.998,"P":1.003},{"l":"B23","i":5,"u":2.015,"P":1.355},{"l":"B23","i":6,"u":2.03,"P":1.76},{"l":"B23","i":7,"u":2.032,"P":1.408},{"l":"B23","i":8,"u":2.028,"P":1.056},{"l":"B23","i":9,"u":2.02,"P":0.704},{"l":"B23","i":10,"u":2.005,"P":0.352},{"l":"B23","i":11,"u":1.985,"P":0.123},{"l":"B23","i":12,"u":1.955,"P":0.018},{"l":"B23","i":13,"u":1.915,"P":-0.01}
    ],
    "tagsA": [
      {"bx1":0.675,"bx2":1.006,"by1":1.46,"by2":1.75,"s":"=1","ax1":1.006,"ay1":1.6,"ax2":1.19,"ay2":1.44},
      {"bx1":1.13,"bx2":1.53,"by1":1.875,"by2":2.15,"s":"=10","ax1":1.53,"ay1":1.92,"ax2":1.765,"ay2":1.69},
      {"bx1":1.765,"bx2":2.235,"by1":2.065,"by2":2.355,"s":"=100","ax1":2.235,"ay1":2.11,"ax2":2.657,"ay2":1.94},
      {"bx1":2.36,"bx2":2.843,"by1":2.14,"by2":2.43,"s":"=200","ax1":2.77,"ay1":2.14,"ax2":2.93,"ay2":1.98}
    ],
    "tagsB": [
      {"bx1":0.09,"bx2":0.44,"by1":2.14,"by2":2.44,"s":"=1","ax1":0.44,"ay1":2.27,"ax2":0.7,"ay2":2.14},
      {"bx1":0.61,"bx2":1.02,"by1":2.29,"by2":2.59,"s":"=10","ax1":0.94,"ay1":2.29,"ax2":1.06,"ay2":2.2},
      {"bx1":1.524,"bx2":2.018,"by1":2.06,"by2":2.35,"s":"=100","ax1":1.795,"ay1":2.06,"ax2":1.753,"ay2":1.85},
      {"bx1":2.2,"bx2":2.69,"by1":1.4,"by2":1.69,"s":"=200","ax1":2.2,"ay1":1.57,"ax2":2.054,"ay2":1.74}
    ],
    "infoA": [{"bx1":0.06,"bx2":0.88,"by1":1.93,"by2":2.4}],
    "infoB": [{"bx1":2.11,"bx2":2.91,"by1":0.02,"by2":0.48}],
    "linesA": [{"x":0.48,"y":2.187,"t":"1/5A ballast"},{"x":0.48,"y":1.974,"t":"No.8 Sleeper"}],
    "linesB": [{"x":2.518,"y":0.29,"t":"1/5B ballast"},{"x":2.518,"y":0.076,"t":"No.8 Sleeper"}],
    "panelA": [{"x":0.217,"y":1.69,"t":"(a)"}],
    "panelB": [{"x":0.217,"y":1.677,"t":"(b)"}]
  },
  "vconcat": [
    {
      "width": 516, "height": 360,
      "resolve": {"axis": {"x": "independent", "y": "independent"}},
      "layer": [
        {
          "data": {"name": "loopsA"},
          "mark": {"type": "line", "color": "black", "strokeWidth": 1.5, "clip": true},
          "encoding": {
            "x": {"field": "u", "type": "quantitative", "scale": {"domain": [-0.1, 3.0], "nice": false, "zero": false},
              "axis": {"orient": "bottom", "title": "Vertical displacement, u (mm)", "values": [0,0.25,0.5,0.75,1,1.25,1.5,1.75,2,2.25,2.5,2.75,3], "labelExpr": "datum.value % 0.5 == 0 ? format(datum.value, '.1f') : ''", "grid": true, "gridColor": "#333", "gridDash": [1.5, 2.5], "gridWidth": 1, "gridOpacity": {"condition": {"test": "datum.value % 0.5 != 0", "value": 0}, "value": 1}, "tickSize": {"condition": {"test": "datum.value % 0.5 != 0", "value": -4}, "value": -8}, "labelPadding": 17, "titlePadding": 3, "labelFlush": false}},
            "y": {"field": "P", "type": "quantitative", "scale": {"domain": [-0.25, 2.5], "nice": false, "zero": false},
              "axis": {"orient": "left", "title": "Vertical load, Pᵣ (kN)", "values": [0,0.25,0.5,0.75,1,1.25,1.5,1.75,2,2.25,2.5], "labelExpr": "datum.value % 0.5 == 0 ? format(datum.value, '.1f') : ''", "grid": true, "gridColor": "#333", "gridDash": [1.5, 2.5], "gridWidth": 1, "gridOpacity": {"condition": {"test": "datum.value % 0.5 != 0", "value": 0}, "value": 1}, "tickSize": {"condition": {"test": "datum.value % 0.5 != 0", "value": -4}, "value": -8}, "labelPadding": 16, "titlePadding": 12, "labelFlush": false}},
            "detail": {"field": "l"},
            "order": {"field": "i", "type": "quantitative"}
          }
        },
        {
          "data": {"name": "tagsA"},
          "mark": {"type": "rule", "color": "black", "strokeWidth": 1},
          "encoding": {
            "x": {"field": "ax1", "type": "quantitative", "axis": {"orient": "top", "title": null, "labels": false, "grid": false, "values": [0,0.25,0.5,0.75,1,1.25,1.5,1.75,2,2.25,2.5,2.75,3], "tickSize": {"condition": {"test": "datum.value % 0.5 != 0", "value": -4}, "value": -8}}},
            "y": {"field": "ay1", "type": "quantitative", "axis": {"orient": "right", "title": null, "labels": false, "grid": false, "values": [0,0.25,0.5,0.75,1,1.25,1.5,1.75,2,2.25,2.5], "tickSize": {"condition": {"test": "datum.value % 0.5 != 0", "value": -4}, "value": -8}}},
            "x2": {"field": "ax2"}, "y2": {"field": "ay2"}
          }
        },
        {
          "data": {"name": "tagsA"},
          "mark": {"type": "rect", "fill": "white", "stroke": "black", "strokeWidth": 1.2},
          "encoding": {
            "x": {"field": "bx1", "type": "quantitative", "axis": null}, "x2": {"field": "bx2"},
            "y": {"field": "by1", "type": "quantitative", "axis": null}, "y2": {"field": "by2"}
          }
        },
        {
          "data": {"name": "infoA"},
          "mark": {"type": "rect", "fill": "white", "stroke": "black", "strokeWidth": 1.2},
          "encoding": {
            "x": {"field": "bx1", "type": "quantitative", "axis": null}, "x2": {"field": "bx2"},
            "y": {"field": "by1", "type": "quantitative", "axis": null}, "y2": {"field": "by2"}
          }
        },
        {
          "data": {"name": "tagsA"},
          "mark": {"type": "text", "text": "N", "fontStyle": "italic", "fontSize": 24, "align": "left", "baseline": "alphabetic", "dx": 5, "dy": -13, "color": "black"},
          "encoding": {"x": {"field": "bx1", "type": "quantitative", "axis": null}, "y": {"field": "by1", "type": "quantitative", "axis": null}}
        },
        {
          "data": {"name": "tagsA"},
          "mark": {"type": "text", "text": "c", "fontSize": 15, "align": "left", "baseline": "alphabetic", "dx": 20, "dy": -4, "color": "black"},
          "encoding": {"x": {"field": "bx1", "type": "quantitative", "axis": null}, "y": {"field": "by1", "type": "quantitative", "axis": null}}
        },
        {
          "data": {"name": "tagsA"},
          "mark": {"type": "text", "fontSize": 24, "align": "left", "baseline": "alphabetic", "dx": 26, "dy": -13, "color": "black"},
          "encoding": {"x": {"field": "bx1", "type": "quantitative", "axis": null}, "y": {"field": "by1", "type": "quantitative", "axis": null}, "text": {"field": "s"}}
        },
        {
          "data": {"name": "linesA"},
          "mark": {"type": "text", "fontSize": 23, "align": "center", "baseline": "alphabetic", "color": "black"},
          "encoding": {"x": {"field": "x", "type": "quantitative", "axis": null}, "y": {"field": "y", "type": "quantitative", "axis": null}, "text": {"field": "t"}}
        },
        {
          "data": {"name": "panelA"},
          "mark": {"type": "text", "fontSize": 28, "align": "center", "baseline": "alphabetic", "color": "black"},
          "encoding": {"x": {"field": "x", "type": "quantitative", "axis": null}, "y": {"field": "y", "type": "quantitative", "axis": null}, "text": {"field": "t"}}
        }
      ]
    },
    {
      "width": 516, "height": 360,
      "resolve": {"axis": {"x": "independent", "y": "independent"}},
      "layer": [
        {
          "data": {"name": "loopsB"},
          "mark": {"type": "line", "color": "black", "strokeWidth": 1.5, "clip": true},
          "encoding": {
            "x": {"field": "u", "type": "quantitative", "scale": {"domain": [-0.1, 3.0], "nice": false, "zero": false},
              "axis": {"orient": "bottom", "title": "Vertical displacement, u (mm)", "values": [0,0.25,0.5,0.75,1,1.25,1.5,1.75,2,2.25,2.5,2.75,3], "labelExpr": "datum.value % 0.5 == 0 ? format(datum.value, '.1f') : ''", "grid": true, "gridColor": "#333", "gridDash": [1.5, 2.5], "gridWidth": 1, "gridOpacity": {"condition": {"test": "datum.value % 0.5 != 0", "value": 0}, "value": 1}, "tickSize": {"condition": {"test": "datum.value % 0.5 != 0", "value": -4}, "value": -8}, "labelPadding": 17, "titlePadding": 3, "labelFlush": false}},
            "y": {"field": "P", "type": "quantitative", "scale": {"domain": [-0.25, 2.5], "nice": false, "zero": false},
              "axis": {"orient": "left", "title": "Vertical load, Pᵣ (kN)", "values": [0,0.25,0.5,0.75,1,1.25,1.5,1.75,2,2.25,2.5], "labelExpr": "datum.value % 0.5 == 0 ? format(datum.value, '.1f') : ''", "grid": true, "gridColor": "#333", "gridDash": [1.5, 2.5], "gridWidth": 1, "gridOpacity": {"condition": {"test": "datum.value % 0.5 != 0", "value": 0}, "value": 1}, "tickSize": {"condition": {"test": "datum.value % 0.5 != 0", "value": -4}, "value": -8}, "labelPadding": 16, "titlePadding": 12, "labelFlush": false}},
            "detail": {"field": "l"},
            "order": {"field": "i", "type": "quantitative"}
          }
        },
        {
          "data": {"name": "tagsB"},
          "mark": {"type": "rule", "color": "black", "strokeWidth": 1},
          "encoding": {
            "x": {"field": "ax1", "type": "quantitative", "axis": {"orient": "top", "title": null, "labels": false, "grid": false, "values": [0,0.25,0.5,0.75,1,1.25,1.5,1.75,2,2.25,2.5,2.75,3], "tickSize": {"condition": {"test": "datum.value % 0.5 != 0", "value": -4}, "value": -8}}},
            "y": {"field": "ay1", "type": "quantitative", "axis": {"orient": "right", "title": null, "labels": false, "grid": false, "values": [0,0.25,0.5,0.75,1,1.25,1.5,1.75,2,2.25,2.5], "tickSize": {"condition": {"test": "datum.value % 0.5 != 0", "value": -4}, "value": -8}}},
            "x2": {"field": "ax2"}, "y2": {"field": "ay2"}
          }
        },
        {
          "data": {"name": "tagsB"},
          "mark": {"type": "rect", "fill": "white", "stroke": "black", "strokeWidth": 1.2},
          "encoding": {
            "x": {"field": "bx1", "type": "quantitative", "axis": null}, "x2": {"field": "bx2"},
            "y": {"field": "by1", "type": "quantitative", "axis": null}, "y2": {"field": "by2"}
          }
        },
        {
          "data": {"name": "infoB"},
          "mark": {"type": "rect", "fill": "white", "stroke": "black", "strokeWidth": 1.2},
          "encoding": {
            "x": {"field": "bx1", "type": "quantitative", "axis": null}, "x2": {"field": "bx2"},
            "y": {"field": "by1", "type": "quantitative", "axis": null}, "y2": {"field": "by2"}
          }
        },
        {
          "data": {"name": "tagsB"},
          "mark": {"type": "text", "text": "N", "fontStyle": "italic", "fontSize": 24, "align": "left", "baseline": "alphabetic", "dx": 5, "dy": -13, "color": "black"},
          "encoding": {"x": {"field": "bx1", "type": "quantitative", "axis": null}, "y": {"field": "by1", "type": "quantitative", "axis": null}}
        },
        {
          "data": {"name": "tagsB"},
          "mark": {"type": "text", "text": "c", "fontSize": 15, "align": "left", "baseline": "alphabetic", "dx": 20, "dy": -4, "color": "black"},
          "encoding": {"x": {"field": "bx1", "type": "quantitative", "axis": null}, "y": {"field": "by1", "type": "quantitative", "axis": null}}
        },
        {
          "data": {"name": "tagsB"},
          "mark": {"type": "text", "fontSize": 24, "align": "left", "baseline": "alphabetic", "dx": 26, "dy": -13, "color": "black"},
          "encoding": {"x": {"field": "bx1", "type": "quantitative", "axis": null}, "y": {"field": "by1", "type": "quantitative", "axis": null}, "text": {"field": "s"}}
        },
        {
          "data": {"name": "linesB"},
          "mark": {"type": "text", "fontSize": 23, "align": "center", "baseline": "alphabetic", "color": "black"},
          "encoding": {"x": {"field": "x", "type": "quantitative", "axis": null}, "y": {"field": "y", "type": "quantitative", "axis": null}, "text": {"field": "t"}}
        },
        {
          "data": {"name": "panelB"},
          "mark": {"type": "text", "fontSize": 28, "align": "center", "baseline": "alphabetic", "color": "black"},
          "encoding": {"x": {"field": "x", "type": "quantitative", "axis": null}, "y": {"field": "y", "type": "quantitative", "axis": null}, "text": {"field": "t"}}
        }
      ]
    }
  ]
}
